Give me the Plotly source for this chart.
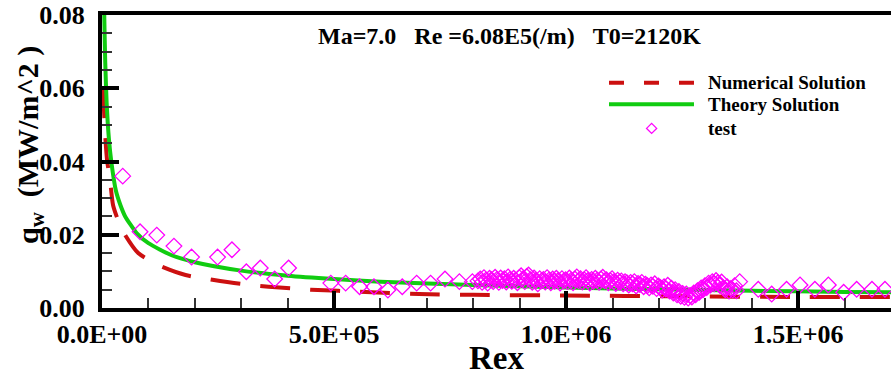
import plotly.graph_objects as go

# ---------------- data ----------------
theory_x = [4.0e3, 5.0e3, 7.0e3, 1.0e4, 1.5e4, 2.0e4, 3.0e4, 4.0e4, 5.0e4, 7.5e4, 1.0e5, 1.5e5,
            2.0e5, 3.0e5, 4.0e5, 5.0e5, 6.0e5, 8.0e5, 1.0e6, 1.2e6, 1.4e6, 1.6e6, 1.7e6]
theory_q = [0.088, 0.079, 0.067, 0.056, 0.046, 0.040, 0.032, 0.028, 0.025, 0.0204, 0.0177, 0.0144,
            0.0125, 0.0102, 0.0088, 0.0079, 0.0072, 0.0063, 0.0056, 0.0051, 0.0047, 0.0044, 0.0043]

num_x = [3.0e3, 4.3e3, 6.5e3, 1.08e4, 1.73e4, 2.4e4, 4.3e4, 7.8e4, 1.25e5, 1.8e5, 2.38e5, 2.98e5,
         3.59e5, 4.5e5, 5.68e5, 6.83e5, 8.0e5, 1.0e6, 1.25e6, 1.49e6, 1.7e6]
num_q = [0.060, 0.054, 0.048, 0.0405, 0.035, 0.028, 0.0214, 0.015, 0.0115, 0.0090, 0.0077, 0.0066,
         0.0058, 0.0050, 0.0044, 0.0038, 0.0036, 0.0034, 0.0032, 0.0030, 0.0030]

test_x = [4.47e4, 8.2e4, 1.18e5, 1.55e5, 1.93e5, 2.49e5, 2.80e5, 3.11e5, 3.41e5, 3.72e5, 4.02e5,
          4.93e5, 5.25e5, 5.55e5, 5.86e5, 6.16e5, 6.47e5, 6.78e5, 7.08e5, 7.39e5, 7.70e5, 7.98e5,
          810e3, 815e3, 819e3, 823e3, 827e3, 831e3, 835e3, 839e3, 843e3, 847e3, 851e3, 855e3,
          859e3, 863e3, 867e3, 871e3, 875e3, 879e3, 883e3, 887e3, 891e3, 895e3, 899e3, 903e3,
          907e3, 911e3, 915e3, 919e3, 923e3, 927e3, 931e3, 935e3, 939e3, 943e3, 947e3, 951e3,
          955e3, 959e3, 963e3, 967e3, 971e3, 975e3, 979e3, 983e3, 987e3, 991e3, 995e3, 999e3,
          1003e3, 1007e3, 1011e3, 1015e3, 1019e3, 1023e3, 1027e3, 1031e3, 1035e3, 1039e3, 1043e3,
          1047e3, 1051e3, 1055e3, 1059e3, 1063e3, 1067e3, 1071e3, 1075e3, 1079e3, 1083e3, 1087e3,
          1091e3, 1095e3, 1099e3, 1103e3, 1107e3, 1111e3, 1115e3, 1119e3, 1123e3, 1127e3, 1131e3,
          1135e3, 1139e3, 1143e3, 1147e3, 1151e3, 1155e3, 1159e3, 1163e3, 1167e3, 1171e3, 1175e3,
          1179e3, 1183e3, 1187e3,
          1191e3, 1195e3, 1199e3, 1203e3, 1207e3, 1211e3, 1215e3, 1219e3, 1223e3, 1227e3, 1231e3,
          1235e3, 1239e3, 1243e3, 1247e3, 1251e3, 1255e3, 1259e3, 1263e3, 1267e3, 1271e3, 1275e3,
          1279e3, 1283e3, 1287e3, 1291e3, 1295e3, 1299e3, 1303e3, 1307e3, 1311e3, 1315e3, 1319e3,
          1323e3, 1327e3, 1331e3, 1335e3, 1339e3, 1343e3, 1347e3, 1351e3, 1355e3, 1359e3, 1363e3,
          1367e3,
          1.374e6, 1.414e6, 1.443e6, 1.475e6, 1.504e6, 1.536e6, 1.565e6, 1.598e6, 1.626e6, 1.659e6,
          1.687e6]
test_q = [0.036, 0.0208, 0.0199, 0.0169, 0.0139, 0.0139, 0.0159, 0.0099, 0.0109, 0.0079, 0.0109,
          0.0068, 0.0068, 0.0058, 0.0058, 0.0049, 0.0058, 0.0068, 0.0068, 0.0079, 0.0072, 0.0072,
          0.0074, 0.0079, 0.0070, 0.0083, 0.0076, 0.0068, 0.0081, 0.0077, 0.0072, 0.0084, 0.0078,
          0.0070, 0.0082, 0.0075, 0.0080, 0.0071, 0.0085, 0.0078, 0.0073, 0.0081, 0.0076, 0.0069,
          0.0083, 0.0088, 0.0079, 0.0072, 0.0086, 0.0090, 0.0077, 0.0070, 0.0082, 0.0075, 0.0066,
          0.0080, 0.0074, 0.0078, 0.0071, 0.0083, 0.0076, 0.0069, 0.0079, 0.0073, 0.0081, 0.0075,
          0.0068, 0.0080, 0.0074, 0.0077,
          0.0072, 0.0082, 0.0076, 0.0069, 0.0079, 0.0085, 0.0074, 0.0080, 0.0071, 0.0077, 0.0083,
          0.0075, 0.0068, 0.0078, 0.0073, 0.0081, 0.0076, 0.0070, 0.0079, 0.0084, 0.0074, 0.0077,
          0.0069, 0.0075, 0.0080, 0.0072, 0.0067, 0.0076, 0.0071, 0.0074, 0.0066, 0.0072, 0.0069,
          0.0063, 0.0070, 0.0066, 0.0072, 0.0060, 0.0067, 0.0064, 0.0070, 0.0058, 0.0065, 0.0061,
          0.0055, 0.0063, 0.0059,
          0.0066, 0.0053, 0.0060, 0.0056, 0.0049, 0.0058, 0.0052, 0.0062, 0.0046, 0.0054, 0.0041,
          0.0050, 0.0036, 0.0045, 0.0032, 0.0040, 0.0029, 0.0038, 0.0027, 0.0034, 0.0030, 0.0041,
          0.0036, 0.0047, 0.0043, 0.0055, 0.0050, 0.0061, 0.0056, 0.0068, 0.0063, 0.0072, 0.0066,
          0.0075, 0.0069, 0.0062, 0.0071, 0.0055, 0.0050, 0.0058, 0.0046, 0.0053, 0.0049, 0.0061,
          0.0047,
          0.0072, 0.0051, 0.0038, 0.0051, 0.0063, 0.0051, 0.0063, 0.0043, 0.0051, 0.0051, 0.0051]

x_tickvals = [0, 5e5, 1e6, 1.5e6]
x_ticktext = ["0.0E+00", "5.0E+05", "1.0E+06", "1.5E+06"]
y_tickvals = [0, 0.02, 0.04, 0.06, 0.08]
y_ticktext = ["0.00", "0.02", "0.04", "0.06", "0.08"]

legend_names = ["Numerical Solution", "Theory Solution", "test"]
title_text = "Ma=7.0&nbsp;&nbsp;&nbsp;Re =6.08E5(/m)&nbsp;&nbsp;&nbsp;T0=2120K"

# ---------------- style ----------------
RED = "#cc1010"
GREEN = "#11cc11"
MAG = "#ff00ff"
FONT = "Liberation Serif"

fig = go.Figure()
fig.add_trace(go.Scatter(x=num_x, y=num_q, mode="lines", showlegend=False,
                         line=dict(color=RED, width=4, dash="30px,20px", shape="spline", smoothing=0.6)))
fig.add_trace(go.Scatter(x=theory_x, y=theory_q, mode="lines", showlegend=False,
                         line=dict(color=GREEN, width=4, shape="spline", smoothing=0.6)))
fig.add_trace(go.Scatter(x=test_x, y=test_q, mode="markers", showlegend=False,
                         marker=dict(symbol="diamond-open", size=12, color=MAG,
                                     line=dict(color=MAG, width=1.3))))

fig.update_xaxes(range=[0, 1.7e6], tickvals=x_tickvals, ticktext=x_ticktext,
                 ticks="inside", ticklen=17, tickwidth=3.5, tickcolor="black",
                 showline=True, linewidth=4, linecolor="black", mirror=True,
                 showgrid=False, zeroline=False,
                 tickfont=dict(family=FONT, size=26, color="black", weight="bold"),
                 minor=dict(ticks="inside", dtick=1e5, tick0=0, ticklen=10, tickwidth=1.5,
                            tickcolor="#333333", showgrid=False))
fig.update_yaxes(range=[0, 0.08], tickvals=y_tickvals, ticktext=y_ticktext,
                 ticks="inside", ticklen=17, tickwidth=3.5, tickcolor="black",
                 showline=True, linewidth=4, linecolor="black", mirror=False,
                 showgrid=False, zeroline=False, ticklabelstandoff=8,
                 tickfont=dict(family=FONT, size=26, color="black", weight="bold"),
                 minor=dict(ticks="inside", dtick=0.005, tick0=0, ticklen=10, tickwidth=1.5,
                            tickcolor="#333333", showgrid=False))

annos = [
    dict(text=title_text, x=0.517, y=0.928, xref="paper", yref="paper", showarrow=False,
         xanchor="center", yanchor="middle",
         font=dict(family=FONT, size=24, color="black", weight="bold")),
    dict(text="Rex", x=0.5, y=-0.171, xref="paper", yref="paper", showarrow=False,
         xanchor="center", yanchor="middle",
         font=dict(family=FONT, size=33, color="black", weight="bold")),
    dict(text="q<sub>w</sub>  (MW/m^2 )", x=-0.0913, y=0.556, xref="paper", yref="paper",
         showarrow=False, textangle=-90, xanchor="center", yanchor="middle",
         font=dict(family=FONT, size=30, color="black", weight="bold")),
]
# manual legend
leg_x_line0, leg_x_line1, leg_x_text = 0.6426, 0.7503, 0.766
leg_ys = [0.769, 0.695, 0.613]
for name, yy in zip(legend_names, leg_ys):
    annos.append(dict(text=name, x=leg_x_text, y=yy, xref="paper", yref="paper", showarrow=False,
                      xanchor="left", yanchor="middle",
                      font=dict(family=FONT, size=19, color="black", weight="bold")))
shapes = [
    dict(type="line", xref="paper", yref="paper", x0=leg_x_line0, x1=leg_x_line1,
         y0=leg_ys[0], y1=leg_ys[0], line=dict(color=RED, width=4, dash="15px,20px")),
    dict(type="line", xref="paper", yref="paper", x0=leg_x_line0, x1=leg_x_line1,
         y0=leg_ys[1], y1=leg_ys[1], line=dict(color=GREEN, width=4)),
]
cx, cy, dx, dy = 0.6966, leg_ys[2], 0.0064, 0.0171
shapes.append(dict(type="path", xref="paper", yref="paper",
                   path=f"M{cx-dx},{cy} L{cx},{cy+dy} L{cx+dx},{cy} L{cx},{cy-dy} Z",
                   line=dict(color=MAG, width=1.3)))

fig.update_layout(width=891, height=378, margin=dict(l=102, r=0, t=15, b=70),
                  plot_bgcolor="white", paper_bgcolor="white",
                  annotations=annos, shapes=shapes, showlegend=False)
fig.write_html("out.html", config={"displayModeBar": False},
               post_script="document.body.style.margin='0';document.body.style.overflow='hidden';")
